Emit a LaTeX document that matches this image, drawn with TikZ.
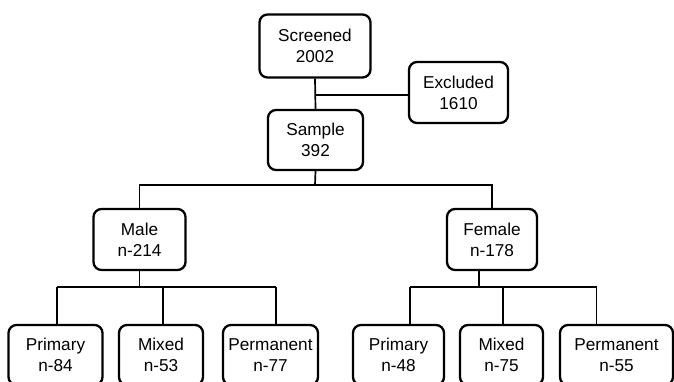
\documentclass[tikz,border=0pt]{standalone}
\usepackage{fontspec}
\setmainfont{Liberation Sans}
\begin{document}
\begin{tikzpicture}[x=1pt,y=-1pt,
  box/.style={draw, line width=2.3pt, rounded corners=8pt, align=center, inner sep=0pt,
    font=\fontsize{17.2pt}{21pt}\selectfont},
  link/.style={line width=1.7pt}]
\useasboundingbox (0,0) rectangle (674,381);
\clip (0,0) rectangle (674,381);
% top
\node[box, minimum width=111pt, minimum height=63pt] (scr) at (315,46) {Screened\\2002};
\node[box, minimum width=99pt, minimum height=61pt] (exc) at (458.5,92.5) {Excluded\\1610};
\node[box, minimum width=95pt, minimum height=60pt] (sam) at (315.5,140) {Sample\\392};
% second level
\node[box, minimum width=92pt, minimum height=61pt] (mal) at (139.5,239.5) {Male\\n-214};
\node[box, minimum width=90pt, minimum height=61pt] (fem) at (492,239.5) {Female\\n-178};
% bottom level
\node[box, minimum width=94pt, minimum height=60pt] (mpri) at (55.5,355) {Primary\\n-84};
\node[box, minimum width=84pt, minimum height=60pt] (mmix) at (161,355) {Mixed\\n-53};
\node[box, minimum width=95pt, minimum height=60pt] (mper) at (270.5,355) {Permanent\\n-77};
\node[box, minimum width=91pt, minimum height=60pt] (fpri) at (398.5,355) {Primary\\n-48};
\node[box, minimum width=83pt, minimum height=60pt] (fmix) at (501.5,355) {Mixed\\n-75};
\node[box, minimum width=113pt, minimum height=60pt] (fper) at (616.5,355) {Permanent\\n-55};
% junction coordinates
\coordinate (jx) at (315,95);
\coordinate (js) at (315,185);
\coordinate (jm) at (139.5,287);
\coordinate (jf) at (479,287);
\coordinate (mpt) at (57,287);
\coordinate (mmt) at (163,287);
\coordinate (mrt) at (276,287);
\coordinate (fpt) at (410,287);
\coordinate (fmt) at (503,287);
\coordinate (frt) at (596.5,287);
% connectors
\draw[link] (scr.south) -- (sam.north);
\draw[link] (jx) -- (jx -| exc.west);
\draw[link] (sam.south) -- (js);
\draw[link] (mal.north) |- (js) -| (fem.north);
\draw[link] (mal.south) -- (jm);
\draw[link] (jf |- fem.south) -- (jf);
\draw[link] (mpt) -- (mrt);
\draw[link] (fpt) -- (frt);
\draw[link] (mpt) -- (mpt |- mpri.north);
\draw[link] (mmt) -- (mmt |- mmix.north);
\draw[link] (mrt) -- (mrt |- mper.north);
\draw[link] (fpt) -- (fpt |- fpri.north);
\draw[link] (fmt) -- (fmt |- fmix.north);
\draw[link] (frt) -- (frt |- fper.north);
\end{tikzpicture}
\end{document}
